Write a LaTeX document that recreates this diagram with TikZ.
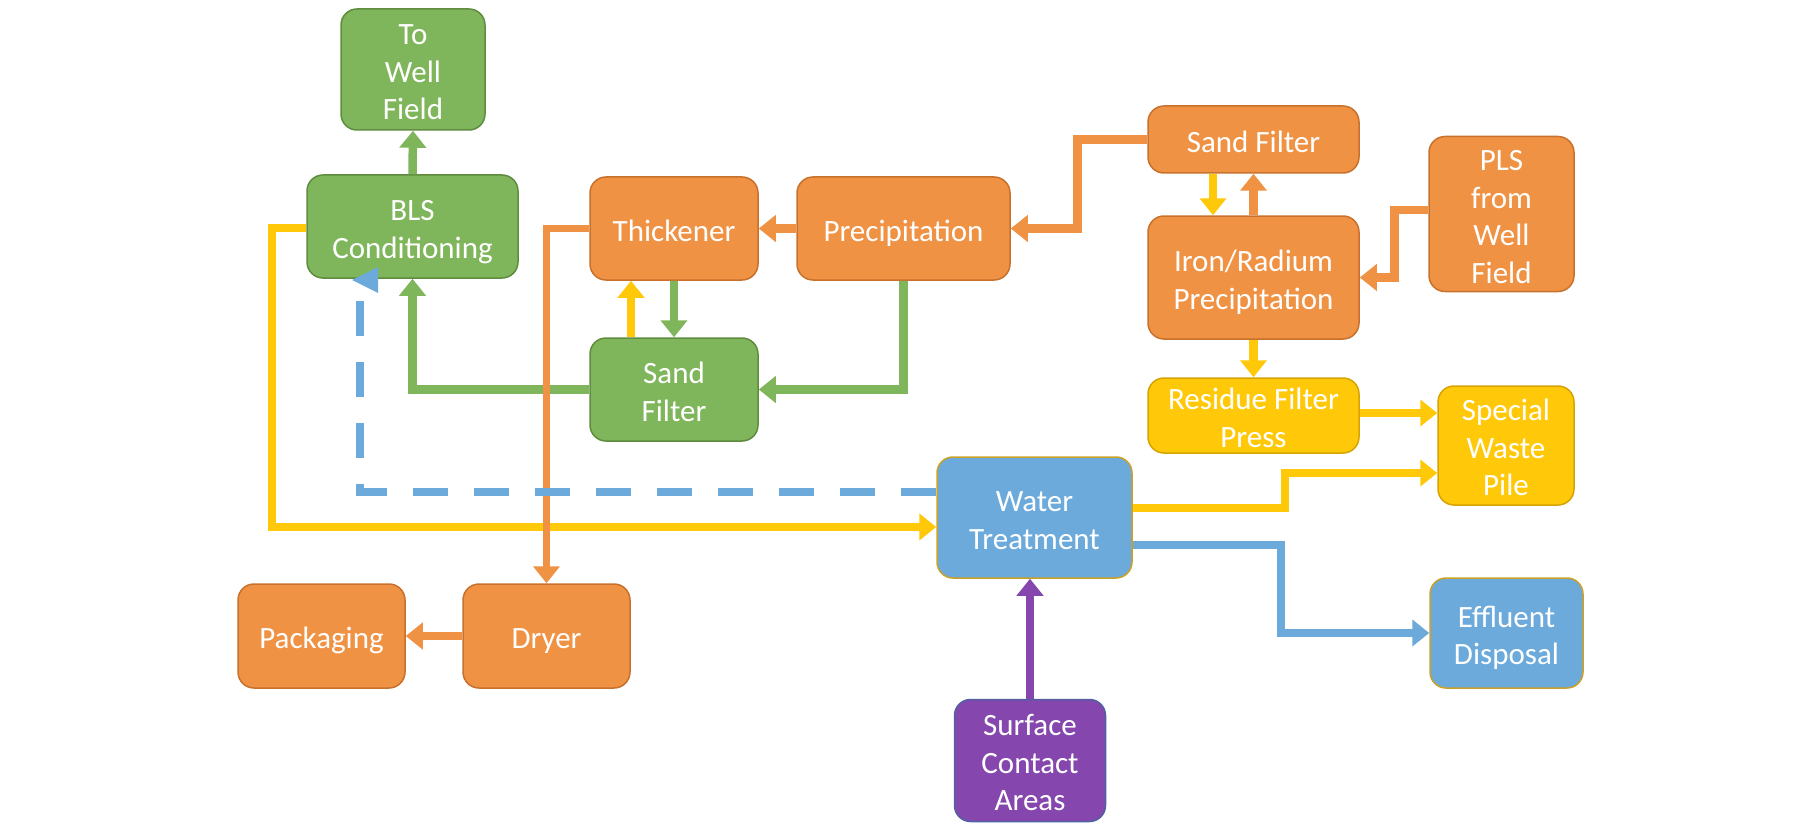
\documentclass[tikz,border=0pt]{standalone}
\usepackage{fontspec}
\setmainfont{Carlito}
\usetikzlibrary{arrows.meta}
\definecolor{gfill}{HTML}{80B65B}
\definecolor{gline}{HTML}{5F8C3F}
\definecolor{ofill}{HTML}{F09244}
\definecolor{oline}{HTML}{C8712C}
\definecolor{yfill}{HTML}{FFC90A}
\definecolor{yline}{HTML}{D6A300}
\definecolor{bfill}{HTML}{6CAADC}
\definecolor{bline}{HTML}{C9A227}
\definecolor{pfill}{HTML}{8547AD}
\definecolor{pline}{HTML}{5060A2}
\newcommand\mystrut{\rule[-6pt]{0pt}{37.5pt}}
\tikzset{
  box/.style={rectangle, rounded corners=16pt, line width=1.5pt, text=white, align=center,
    inner sep=0pt, font=\fontsize{31}{37.5}\selectfont},
  gbox/.style={box, fill=gfill, draw=gline},
  obox/.style={box, fill=ofill, draw=oline},
  ybox/.style={box, fill=yfill, draw=yline},
  bbox/.style={box, fill=bfill, draw=bline},
  pbox/.style={box, fill=pfill, draw=pline},
  conn/.style={line width=8.5pt, -{Triangle[length=17pt,width=26pt]}},
  gconn/.style={conn, draw=gfill},
  oconn/.style={conn, draw=ofill},
  yconn/.style={conn, draw=yfill},
  bconn/.style={conn, draw=bfill},
  pconn/.style={conn, draw=pfill},
  dashconn/.style={line width=8.5pt, draw=bfill, dash pattern=on 35pt off 26pt},
}
\begin{document}
\begin{tikzpicture}[x=1pt,y=-1pt]
\useasboundingbox (0,0) rectangle (1800,832);
% nodes
\node[gbox, minimum width=144pt, minimum height=121pt] (twf) at (413,69.5) {\mystrut To\\Well\\Field\mystrut};
\node[gbox, minimum width=211pt, minimum height=103pt] (bls) at (412.5,226.5) {\mystrut BLS\\Conditioning\mystrut};
\node[obox, minimum width=168pt, minimum height=103pt] (thick) at (674,228.5) {\mystrut Thickener};
\node[obox, minimum width=213pt, minimum height=103pt] (precip) at (903.5,228.5) {\mystrut Precipitation};
\node[gbox, minimum width=168pt, minimum height=103pt] (sfg) at (674,389.5) {\mystrut Sand\\Filter\mystrut};
\node[obox, minimum width=211pt, minimum height=67pt] (sfo) at (1253.5,139.5) {\mystrut Sand Filter};
\node[obox, minimum width=211pt, minimum height=123pt] (iron) at (1253.5,277.5) {\mystrut Iron/Radium\\Precipitation\mystrut};
\node[obox, minimum width=145pt, minimum height=155pt] (pls) at (1501.5,214) {\mystrut PLS\\from\\Well\\Field\mystrut};
\node[ybox, minimum width=211pt, minimum height=67pt] (rfp) at (1253.5,415.5) {\mystrut Residue Filter\\Press\mystrut};
\node[ybox, minimum width=136pt, minimum height=119pt] (swp) at (1506,445.5) {\mystrut Special\\Waste\\Pile\mystrut};
\node[bbox, minimum width=195pt, minimum height=121pt] (wt) at (1034.5,517.5) {\mystrut Water\\Treatment\mystrut};
\node[bbox, minimum width=153pt, minimum height=110pt] (eff) at (1506.5,633) {\mystrut Effluent\\Disposal\mystrut};
\node[pbox, minimum width=151pt, minimum height=122pt] (sca) at (1030,760.5) {\mystrut Surface\\Contact\\Areas\mystrut};
\node[obox, minimum width=167pt, minimum height=104pt] (pack) at (321.5,636) {\mystrut Packaging};
\node[obox, minimum width=167pt, minimum height=104pt] (dryer) at (546.5,636) {\mystrut Dryer};
% coordinates
\coordinate (dashend) at (360,293);
\coordinate (dashtip) at (352,280);
% connectors
\draw[gconn] (bls.north) -- (twf.south);
\draw[gconn] (sfg.west) -| (bls.south);
\draw[gconn] (precip.south) |- (sfg.east);
\draw[gconn] (thick.south) -- (sfg.north);
\draw[yconn] ([xshift=-43pt]sfg.north) -- ([xshift=-43pt]thick.south);
\draw[oconn] (precip.west) -- (thick.east);
\draw[oconn] (sfo.west) -- ++(-70,0) |- (precip.east);
\draw[yconn] ([xshift=-40.5pt]sfo.south) -- ([xshift=-40.5pt]iron.north);
\draw[oconn] (iron.north) -- (sfo.south);
\draw[oconn] ([yshift=4pt]pls.west) -- ++(-34,0) |- (iron.east);
\draw[yconn] (iron.south) -- (rfp.north);
\draw[yconn] ([yshift=2.5pt]rfp.east) -- ([yshift=2.5pt]rfp.east -| swp.west);
\draw[yconn] ([yshift=9.5pt]wt.east) -- (1285,508) |- ([yshift=-27.5pt]swp.west);
\draw[bconn] ([yshift=-27.5pt]wt.east) -- (1281,545) |- (eff.west);
\draw[pconn] (sca.north) -- (sca.north |- wt.south);
\draw[yconn] ([yshift=-1.5pt]bls.west) -- (272,228) |- ([yshift=-9.5pt]wt.west);
\draw[oconn, line width=7pt] (thick.west) -| (dryer.north);
\draw[oconn] (dryer.west) -- (pack.east);
\draw[dashconn] ([yshift=25.5pt]wt.west) -| (dashend);
\fill[bfill] (dashtip) -- ++(26,-13) -- ++(0,26) -- cycle;
\end{tikzpicture}
\end{document}
